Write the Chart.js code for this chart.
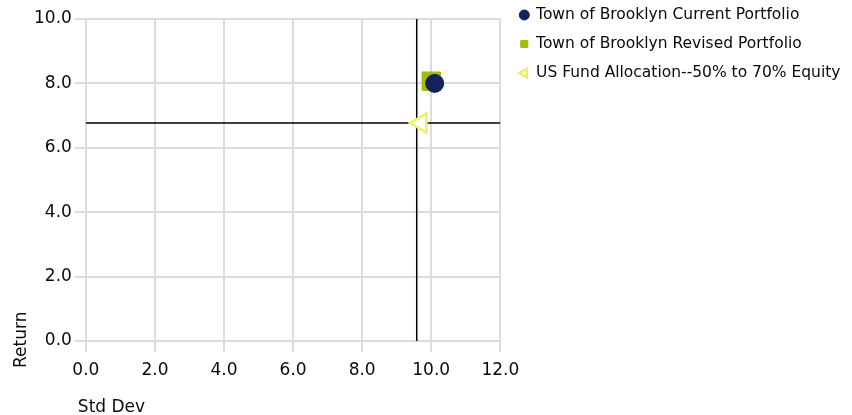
<!DOCTYPE html>
<html>
<head>
<meta charset="utf-8">
<script src="https://cdn.jsdelivr.net/npm/chart.js@4/dist/chart.umd.min.js"></script>
<style>
  html, body { margin: 0; padding: 0; background: #fff; }
  #wrap { width: 852px; height: 415px; }
</style>
</head>
<body>
<div id="wrap"><canvas id="c" width="852" height="415"></canvas></div>
<script>
// Risk / return points (Std Dev, Return)
const seriesNames = [
  'Town of Brooklyn Current Portfolio',
  'Town of Brooklyn Revised Portfolio',
  'US Fund Allocation--50% to 70% Equity'
];
const stdDev = [10.1, 10.0, 9.7];
const returns = [8.0, 8.07, 6.77];

// Reference cross-hair through the peer-group allocation
const crossStdDev = 9.58;
const crossReturn = 6.77;

// Axis ranges and tick labels
const xTicks = [0, 2, 4, 6, 8, 10, 12];
const yTicks = [0, 2, 4, 6, 8, 10];

const FONT = "'DejaVu Sans', Verdana, sans-serif";
const TEXT = '#0a0a0a';

const pointStyles = ['circle', 'rect', 'triangle'];
const fills = ['#13215e', '#a6ba0c', '#ffffff'];
const strokes = ['#13215e', '#a6ba0c', '#eeee66'];
const radii = [9, 13, 11];
const strokeWidths = [1, 1, 2.5];
const rotations = [0, 0, -90];

const datasets = seriesNames.map((name, i) => ({
  type: 'scatter',
  label: name,
  data: [{ x: stdDev[i], y: returns[i] }],
  pointStyle: pointStyles[i],
  backgroundColor: fills[i],
  borderColor: strokes[i],
  borderWidth: strokeWidths[i],
  pointRadius: radii[i],
  pointHoverRadius: radii[i],
  rotation: rotations[i]
}));

// Horizontal and vertical guide lines
datasets.push({
  type: 'line',
  label: 'crossH',
  data: [{ x: xTicks[0], y: crossReturn }, { x: xTicks[xTicks.length - 1], y: crossReturn }],
  borderColor: '#000',
  borderWidth: 1.5,
  pointRadius: 0,
  fill: false
});
datasets.push({
  type: 'line',
  label: 'crossV',
  data: [{ x: crossStdDev, y: yTicks[0] }, { x: crossStdDev, y: yTicks[yTicks.length - 1] }],
  borderColor: '#000',
  borderWidth: 1.5,
  pointRadius: 0,
  fill: false
});

// Axis titles: "Return" runs up the left edge, "Std Dev" sits below the ticks
const axisTitles = {
  id: 'axisTitles',
  afterDraw(chart) {
    const { ctx, chartArea } = chart;
    ctx.save();
    ctx.fillStyle = TEXT;
    ctx.font = '17px ' + FONT;
    ctx.textBaseline = 'alphabetic';
    ctx.textAlign = 'left';
    ctx.fillText('Std Dev', chartArea.left - 8, chartArea.bottom + 71);
    ctx.translate(chartArea.left - 60, chartArea.bottom + 27);
    ctx.rotate(-Math.PI / 2);
    ctx.fillText('Return', 0, 0);
    ctx.restore();
  }
};

// Legend sits beside the plot, flush with the top of the canvas
const legendPlacement = {
  id: 'legendPlacement',
  afterLayout(chart) {
    const lg = chart.legend;
    if (!lg) return;
    const w = lg.width, h = lg.height;
    lg.left = chart.chartArea.right + 6.5;
    lg.right = lg.left + w;
    lg.top = -6.25;
    lg.bottom = lg.top + h;
  }
};

new Chart(document.getElementById('c'), {
  data: { datasets },
  options: {
    responsive: false,
    animation: false,
    devicePixelRatio: 1,
    events: [],
    layout: { padding: { left: 31, top: 19, right: 8, bottom: 26.6 } },
    scales: {
      x: {
        type: 'linear',
        min: xTicks[0],
        max: xTicks[xTicks.length - 1],
        afterBuildTicks(scale) { scale.ticks = xTicks.map(v => ({ value: v })); },
        ticks: {
          callback: v => v.toFixed(1),
          font: { family: FONT, size: 17 },
          color: TEXT,
          padding: 8,
          maxRotation: 0
        },
        grid: { color: '#dcdcdc', lineWidth: 2, tickLength: 11 },
        border: { display: false }
      },
      y: {
        type: 'linear',
        min: yTicks[0],
        max: yTicks[yTicks.length - 1],
        afterBuildTicks(scale) { scale.ticks = yTicks.map(v => ({ value: v })); },
        ticks: {
          callback: v => v.toFixed(1),
          font: { family: FONT, size: 17 },
          color: TEXT,
          padding: 3
        },
        grid: { color: '#dcdcdc', lineWidth: 2, tickLength: 11 },
        border: { display: false }
      }
    },
    plugins: {
      tooltip: { enabled: false },
      legend: {
        position: 'right',
        align: 'start',
        maxWidth: 352,
        labels: {
          usePointStyle: true,
          boxWidth: 8,
          boxHeight: 7.07,
          padding: 13.5,
          color: TEXT,
          font: { family: FONT, size: 15.5 },
          filter: item => item.datasetIndex < seriesNames.length
        }
      }
    }
  },
  plugins: [axisTitles, legendPlacement]
});
</script>
</body>
</html>
